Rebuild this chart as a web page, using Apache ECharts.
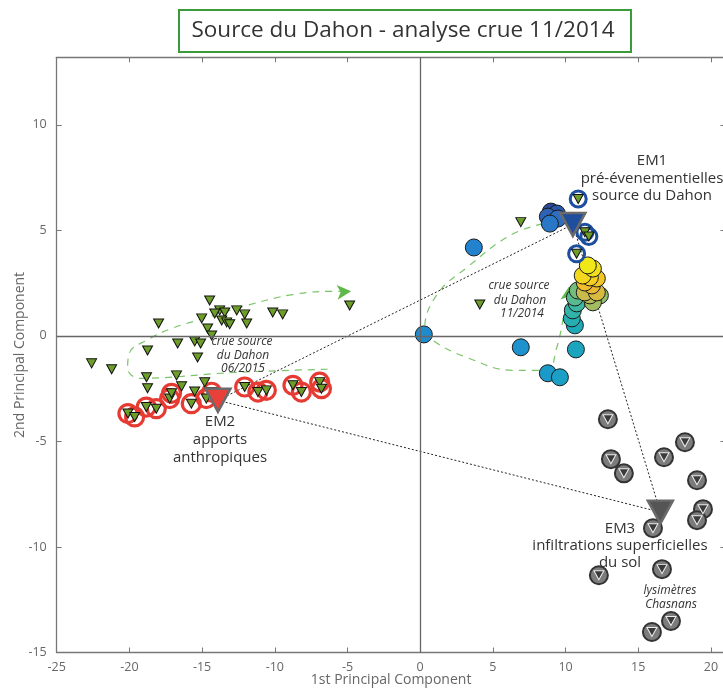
<!DOCTYPE html>
<html><head><meta charset="utf-8">
<script src="https://cdn.jsdelivr.net/npm/echarts@6/dist/echarts.min.js"></script>
<style>html,body{margin:0;padding:0;background:#fff}#c{width:723px;height:689px}</style>
</head><body><div id="c"></div>
<script>
// ---- data ----
const xTickValues = [-25,-20,-15,-10,-5,0,5,10,15,20];
const yTickValues = [-15,-10,-5,0,5,10];

// crue source du Dahon 06/2015 : plain green triangles
const crue2015Triangles = [
  [-14.48,1.68],[-13.79,1.21],[-13.44,1.11],[-14.13,1.06],[-12.62,1.21],[-12.07,1.02],
  [-10.14,1.11],[-9.46,1.02],[-4.85,1.44],[-15.03,0.83],[-13.65,0.73],[-13.31,0.64],
  [-13.10,0.55],[-11.93,0.59],[-17.99,0.59],[-14.62,0.35],[-14.34,0.02],[-16.68,-0.36],
  [-15.51,-0.26],[-15.10,-0.36],[-18.75,-0.69],[-15.31,-1.02],[-22.60,-1.30],[-21.22,-1.58],
  [-18.82,-1.96],[-16.76,-1.87],[-18.75,-2.48],[-16.41,-2.39],[-14.82,-2.20],[-15.51,-2.63]
];
// crue 06/2015 samples retained (red rings)
const crue2015Ringed = [
  [-20.10,-3.68],[-19.64,-3.84],[-18.84,-3.37],[-18.15,-3.45],[-17.23,-2.97],[-17.10,-2.72],
  [-15.74,-3.21],[-14.71,-2.97],[-14.34,-2.67],[-12.07,-2.42],[-11.16,-2.66],[-10.58,-2.58],
  [-8.75,-2.34],[-8.17,-2.66],[-6.91,-2.19],[-6.79,-2.50]
];
// other green triangles near crue 11/2014
const otherTriangles = [[6.92,5.39],[4.10,1.49]];
// pre-event source samples (blue rings)
const preEventRinged = [[10.87,6.49],[11.33,4.91],[11.60,4.71],[10.76,3.89]];

// crue 11/2014 : x, y, sample order (time)
const crue2014X = [8.99,9.40,8.78,9.47,8.92, 3.69,0.25,6.92,8.78,9.61,10.71,
  10.64,10.43,10.50,10.77,10.64,10.84, 12.36,11.88,11.67,11.32,12.15,
  11.81,11.32,12.15,11.67,11.18,11.88,11.53];
const crue2014Y = [5.89,5.80,5.65,5.56,5.32, 4.19,0.07,-0.54,-1.77,-1.96,-0.64,
  0.50,0.83,1.21,1.54,1.82,2.15, 1.92,1.59,1.92,2.06,2.06,
  2.39,2.53,2.72,2.77,2.86,3.19,3.34];
const crue2014Order = [0,1,2,3,4,5,6,7,8,9,10,11,12,13,14,15,16,17,18,19,20,21,22,23,24,25,26,27,28];

// lysimètres Chasnans
const lysimetres = [
  [12.91,-3.95],[18.21,-5.04],[16.77,-5.75],[13.12,-5.84],[14.01,-6.51],[19.04,-6.84],
  [19.45,-8.21],[19.04,-8.73],[16.01,-9.11],[12.29,-11.34],[16.63,-11.05],[17.25,-13.51],[15.94,-14.03]
];
// end-members
const endMemberNames = ['EM1','EM2','EM3'];
const endMembers = [[10.50,5.28],[-13.91,-3.05],[16.52,-8.35]];

// evolution paths (dashed arrows)
const path2015 = [[-6.36,-1.58],[-12.76,-1.73],[-19.30,-2.01],[-20.12,-1.54],[-19.98,-0.78],
  [-18.82,-0.21],[-17.10,0.35],[-14.62,0.88],[-11.94,1.44],[-8.77,1.96],[-6.02,2.11],[-4.75,2.11]];
const path2014 = [[8.44,5.32],[6.17,4.76],[3.21,3.24],[1.21,2.01],[0.32,0.40],[0.87,-0.21],
  [3.21,-1.02],[6.37,-1.63],[8.71,-1.63],[9.40,-0.54],[9.81,0.73],[10.25,2.35]];

// ---- chart ----
const FONT = 'Open Sans';
const crue2014Data = crue2014X.map((x,i)=>[x, crue2014Y[i], crue2014Order[i]]);
const triStyle = {color:'#6e9e2a', borderColor:'#111', borderWidth:1, opacity:1};
function withArrow(path, rot){
  return path.map((p,i)=> i===path.length-1
    ? {value:p, symbol:'arrow', symbolSize:[11,14], symbolRotate:rot, itemStyle:{color:'#5fb84a', opacity:1}}
    : {value:p});
}
const chart = echarts.init(document.getElementById('c'), null, {renderer:'canvas'});
const axisCol = '#777';
const fmt = v => (xTickValues.includes(v) || yTickValues.includes(v)) ? String(v) : '';
const option = {
  animation:false,
  textStyle:{fontFamily:FONT},
  grid:{left:56.7, top:57.3, right:-2.5, bottom:36.5, containLabel:false, outerBoundsMode:'none'},
  visualMap:{show:false, type:'continuous', seriesIndex:4, dimension:2, min:0, max:28,
    inRange:{color:['#2a4a98','#2f6cc0','#2088d0','#1a9cc8','#1eaab8','#3cb8a0','#8cbc70','#c0bc50','#f0b830','#f4d020','#f0e818']}},
  xAxis:[{type:'value', min:-25, max:21, interval:5, position:'bottom',
      axisLine:{show:true, onZero:false, lineStyle:{color:axisCol, width:1.3}},
      axisTick:{show:true, inside:true, length:5, lineStyle:{color:axisCol}},
      axisLabel:{color:'#666', fontSize:12.5, fontFamily:FONT, formatter:fmt, margin:8, hideOverlap:false},
      splitLine:{show:false},
      name:'1st Principal Component', nameLocation:'middle', nameGap:21, nameMoveOverlap:false,
      nameTextStyle:{color:'#666', fontSize:14, fontFamily:FONT}},
    {type:'value', min:-25, max:21, interval:5, position:'top',
      axisLine:{show:true, onZero:false, lineStyle:{color:axisCol, width:1.3}},
      axisTick:{show:true, inside:true, length:5, lineStyle:{color:axisCol}},
      axisLabel:{show:false}, splitLine:{show:false}}],
  yAxis:[{type:'value', min:-15, max:13.2, interval:5, position:'left',
      axisLine:{show:true, onZero:false, lineStyle:{color:axisCol, width:1.3}},
      axisTick:{show:true, inside:true, length:5, lineStyle:{color:axisCol}},
      axisLabel:{color:'#666', fontSize:12.5, fontFamily:FONT, formatter:fmt, margin:10, hideOverlap:false},
      splitLine:{show:false},
      name:'2nd Principal Component', nameLocation:'middle', nameGap:30, nameRotate:90, nameMoveOverlap:false,
      nameTextStyle:{color:'#666', fontSize:14, fontFamily:FONT}},
    {type:'value', min:-15, max:13.2, interval:5, position:'right',
      axisLine:{show:true, onZero:false, lineStyle:{color:axisCol, width:1.3}},
      axisTick:{show:true, inside:true, length:5, lineStyle:{color:axisCol}},
      axisLabel:{show:false}, splitLine:{show:false}}],
  series:[
    {name:'path2015', type:'line', smooth:0.4, data:withArrow(path2015,-86), symbol:'none', showSymbol:true,
      lineStyle:{color:'#7cc46a', width:1.2, type:[7,6]}, z:1,
      markLine:{silent:true, symbol:'none', label:{show:false}, lineStyle:{color:'#666', width:1.3, type:'solid'},
        data:[{xAxis:0},{yAxis:0}]}},
    {name:'path2014', type:'line', smooth:0.4, data:withArrow(path2014,-6), symbol:'none', showSymbol:true,
      lineStyle:{color:'#7cc46a', width:1.2, type:[7,6]}, z:1},
    {name:'mixing', type:'line', data:endMembers.concat([endMembers[0]]), symbol:'none',
      lineStyle:{color:'#222', width:1, type:[2,2]}, z:2},
    {name:'lysCircles', type:'scatter', data:lysimetres, symbol:'circle', symbolSize:18,
      itemStyle:{color:'#7c7c7c', borderColor:'#333', borderWidth:2, opacity:1}, z:3},
    {name:'crue 11/2014', type:'scatter', data:crue2014Data, symbol:'circle', symbolSize:17,
      itemStyle:{borderColor:'#1a1a1a', borderWidth:1, opacity:1}, z:3},
    {name:'redRings', type:'scatter', data:crue2015Ringed, symbol:'circle', symbolSize:18,
      itemStyle:{color:'rgba(255,255,255,0)', borderColor:'#e63b33', borderWidth:3.2, opacity:1}, z:3},
    {name:'blueRings', type:'scatter', data:preEventRinged, symbol:'circle', symbolSize:16,
      itemStyle:{color:'rgba(255,255,255,0)', borderColor:'#1d4f9e', borderWidth:3, opacity:1}, z:3},
    {name:'tri2015', type:'scatter', data:crue2015Triangles, symbol:'triangle', symbolRotate:180, symbolSize:[10,9], itemStyle:triStyle, z:4},
    {name:'tri2015r', type:'scatter', data:crue2015Ringed, symbol:'triangle', symbolRotate:180, symbolSize:[10,9], itemStyle:triStyle, z:4},
    {name:'triOther', type:'scatter', data:otherTriangles, symbol:'triangle', symbolRotate:180, symbolSize:[10,9], itemStyle:triStyle, z:4},
    {name:'triPre', type:'scatter', data:preEventRinged, symbol:'triangle', symbolRotate:180, symbolSize:[10,9], itemStyle:triStyle, z:4},
    {name:'lysTri', type:'scatter', data:lysimetres, symbol:'triangle', symbolRotate:180, symbolSize:[10,9],
      itemStyle:{color:'#3a3a3a', borderColor:'#eee', borderWidth:1, opacity:1}, z:4},
    {name:'EM', type:'scatter', symbol:'triangle', symbolRotate:180, symbolSize:[25,23], z:5,
      data:endMembers.map((p,i)=>({name:endMemberNames[i], value:p,
        itemStyle:{color:['#1f4e9c','#e8413a','#555555'][i], borderColor:'#6a6a6a', borderWidth:2.5, opacity:1}}))}
  ],
  graphic:[
    {type:'rect', left:178, top:9, shape:{width:452, height:42}, style:{fill:'#fff', stroke:'#3b9b3b', lineWidth:2}, z:10},
    {type:'text', x:403, y:31, style:{text:'Source du Dahon - analyse crue 11/2014', fill:'#333', font:'22.5px "Open Sans"', textAlign:'center', textVerticalAlign:'middle'}, z:11},
    ...[['EM1',652,161],['pré-évenementielles',652,179],['source du Dahon',652,196],
        ['EM2',220,422],['apports',220,440],['anthropiques',220,458],
        ['EM3',620,529],['infiltrations superficielles',620,546],['du sol',620,563]].map(t=>({
      type:'text', x:t[1], y:t[2], z:11, style:{text:t[0], fill:'#333', font:'15px "Open Sans"', textAlign:'center', textVerticalAlign:'middle'}})),
    ...[['crue source',242,342],['du Dahon',243,356],['06/2015',243,369],
        ['crue source',519,286],['du Dahon',520,301],['11/2014',522,314],
        ['lysimètres',670,591],['Chasnans',671,605]].map(t=>({
      type:'text', x:t[1], y:t[2], z:11, style:{text:t[0], fill:'#333', font:'italic 12px "Open Sans"', textAlign:'center', textVerticalAlign:'middle'}}))
  ]
};
chart.setOption(option);
</script></body></html>
